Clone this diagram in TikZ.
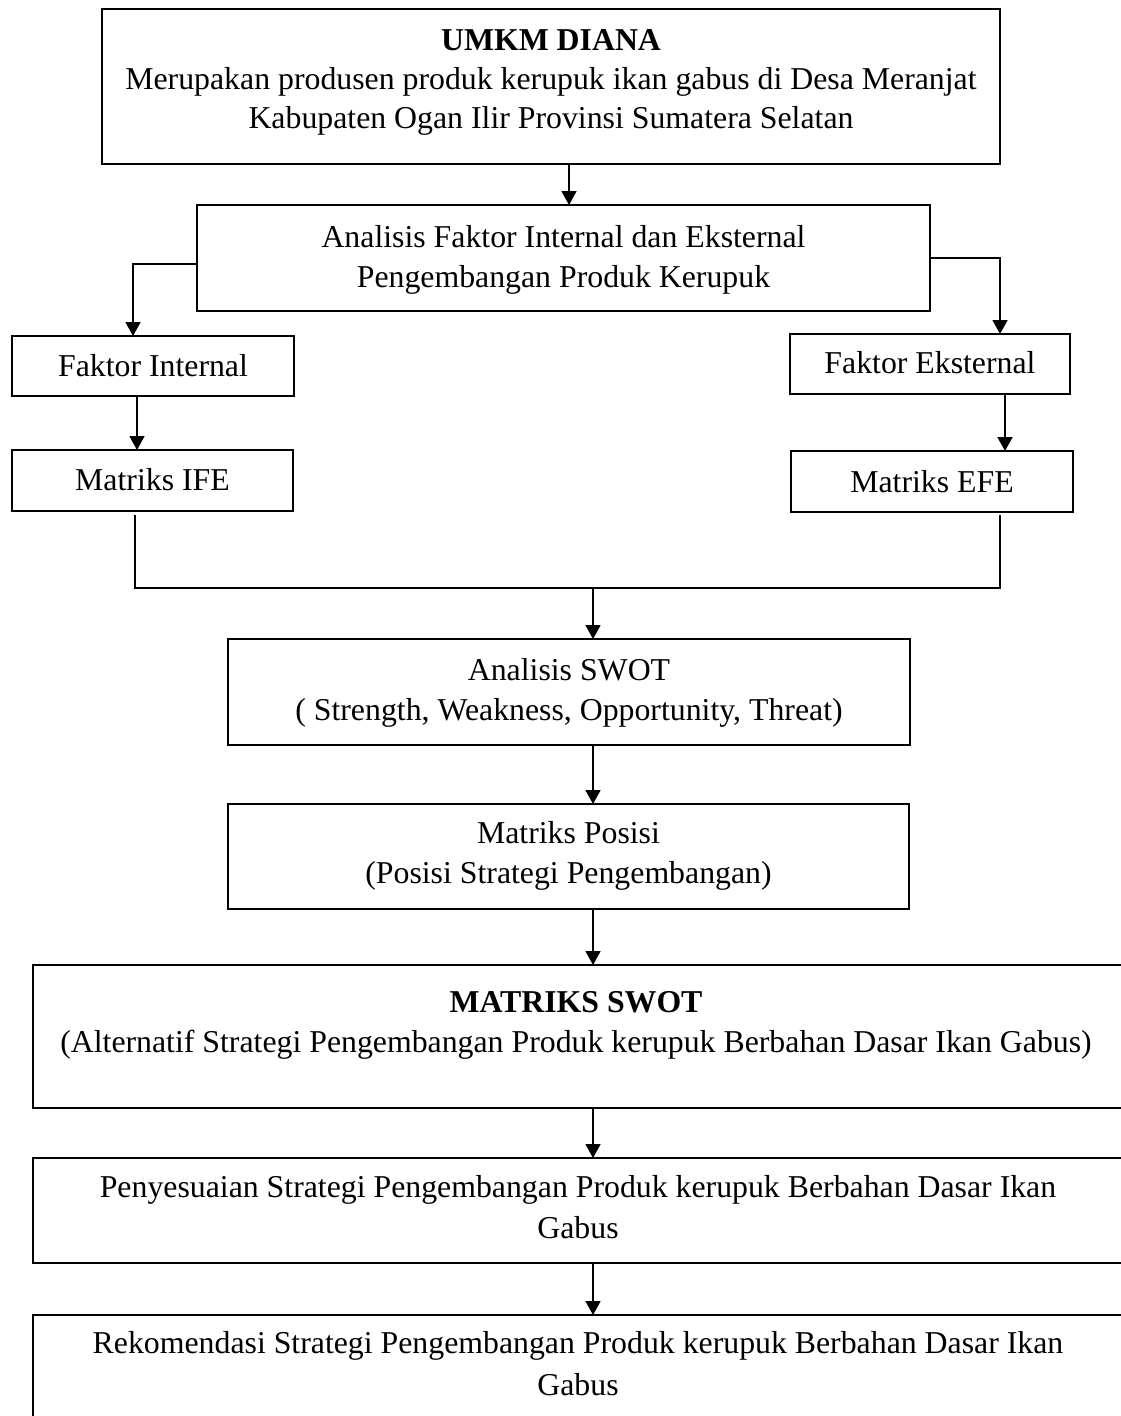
\documentclass[tikz,border=0pt]{standalone}
\usepackage{fontspec}
\setmainfont{Liberation Serif}
\usetikzlibrary{arrows.meta}
\begin{document}
\begin{tikzpicture}[x=1pt,y=-1pt,
  box/.style={draw, line width=1.8pt, inner sep=0pt, outer sep=0pt},
  txt/.style={anchor=base, inner sep=0pt, font=\fontsize{31.8}{39}\selectfont},
  btxt/.style={txt, font=\fontsize{31.8}{39}\selectfont\bfseries},
  conn/.style={line width=1.8pt},
  arr/.style={conn, -{Triangle[width=15pt,length=14pt]}}]
\useasboundingbox (0,0) rectangle (1121,1416);
\clip (0,0) rectangle (1121,1416);
\fill[white] (0,0) rectangle (1121,1416);

% boxes
\node[box, minimum width=898pt, minimum height=155pt] (b1) at (551,86.5) {};
\node[box, minimum width=733pt, minimum height=106pt] (b2) at (563.5,258) {};
\node[box, minimum width=282pt, minimum height=60pt] (fi) at (153,366) {};
\node[box, minimum width=281pt, minimum height=61pt] (ife) at (152.5,480.5) {};
\node[box, minimum width=280pt, minimum height=60pt] (fe) at (930,364) {};
\node[box, minimum width=282pt, minimum height=61pt] (efe) at (932,481.5) {};
\node[box, minimum width=682pt, minimum height=106pt] (swot) at (569,692) {};
\node[box, minimum width=681pt, minimum height=105pt] (pos) at (568.5,856.5) {};
\node[box, minimum width=1090pt, minimum height=143pt] (ms) at (578,1036.5) {};
\node[box, minimum width=1090pt, minimum height=105pt] (pen) at (578,1210.5) {};
\node[box, minimum width=1090pt, minimum height=125pt] (rek) at (578,1377.5) {};

% texts
\node[btxt] (t1a) at (551,50) {UMKM DIANA};
\node[txt] (t1b) at (551,89) {Merupakan produsen produk kerupuk ikan gabus di Desa Meranjat};
\node[txt] (t1c) at (551,128) {Kabupaten Ogan Ilir Provinsi Sumatera Selatan};
\node[txt] (t2a) at (563.5,247) {Analisis Faktor Internal dan Eksternal};
\node[txt] (t2b) at (563.5,287) {Pengembangan Produk Kerupuk};
\node[txt] (tfi) at (153,376) {Faktor Internal};
\node[txt] (tife) at (152.5,490) {Matriks IFE};
\node[txt] (tfe) at (930,373) {Faktor Eksternal};
\node[txt] (tefe) at (932,492) {Matriks EFE};
\node[txt] (tsa) at (569,680) {Analisis SWOT};
\node[txt] (tsb) at (569,720) {( Strength, Weakness, Opportunity, Threat)};
\node[txt] (tpa) at (568.5,843) {Matriks Posisi};
\node[txt] (tpb) at (568.5,883) {(Posisi Strategi Pengembangan)};
\node[btxt] (tma) at (576,1012) {MATRIKS SWOT};
\node[txt] (tmb) at (576,1052) {(Alternatif Strategi Pengembangan Produk kerupuk Berbahan Dasar Ikan Gabus)};
\node[txt] (tpna) at (578,1197) {Penyesuaian Strategi Pengembangan Produk kerupuk Berbahan Dasar Ikan};
\node[txt] (tpnb) at (578,1238) {Gabus};
\node[txt] (tra) at (578,1353) {Rekomendasi Strategi Pengembangan Produk kerupuk Berbahan Dasar Ikan};
\node[txt] (trb) at (578,1395) {Gabus};

% helper coordinates
\coordinate (xtop) at (569,0);
\coordinate (xl) at (133,0);
\coordinate (xr) at (1000,0);
\coordinate (xa) at (137,0);
\coordinate (xb) at (1005,0);
\coordinate (mid) at (593,0);
\coordinate (jl) at (135,588);
\coordinate (jr) at (1000,588);

% connectors
\draw[arr] (b1.south -| xtop) -- (b2.north -| xtop);
\draw[arr] ([yshift=-6pt]b2.west) -| (xl |- fi.north);
\draw[arr] (b2.east) -| (xr |- fe.north);
\draw[arr] (fi.south -| xa) -- (ife.north -| xa);
\draw[arr] (fe.south -| xb) -- (efe.north -| xb);
\draw[conn] ([yshift=-4pt]ife.south -| jl) -- (jl) -- (jr) -- ([yshift=-3pt]efe.south -| jr);
\draw[arr] (jl -| mid) -- (swot.north -| mid);
\draw[arr] (swot.south -| mid) -- (pos.north -| mid);
\draw[arr] (pos.south -| mid) -- (ms.north -| mid);
\draw[arr] (ms.south -| mid) -- (pen.north -| mid);
\draw[arr] (pen.south -| mid) -- (rek.north -| mid);
\end{tikzpicture}
\end{document}
